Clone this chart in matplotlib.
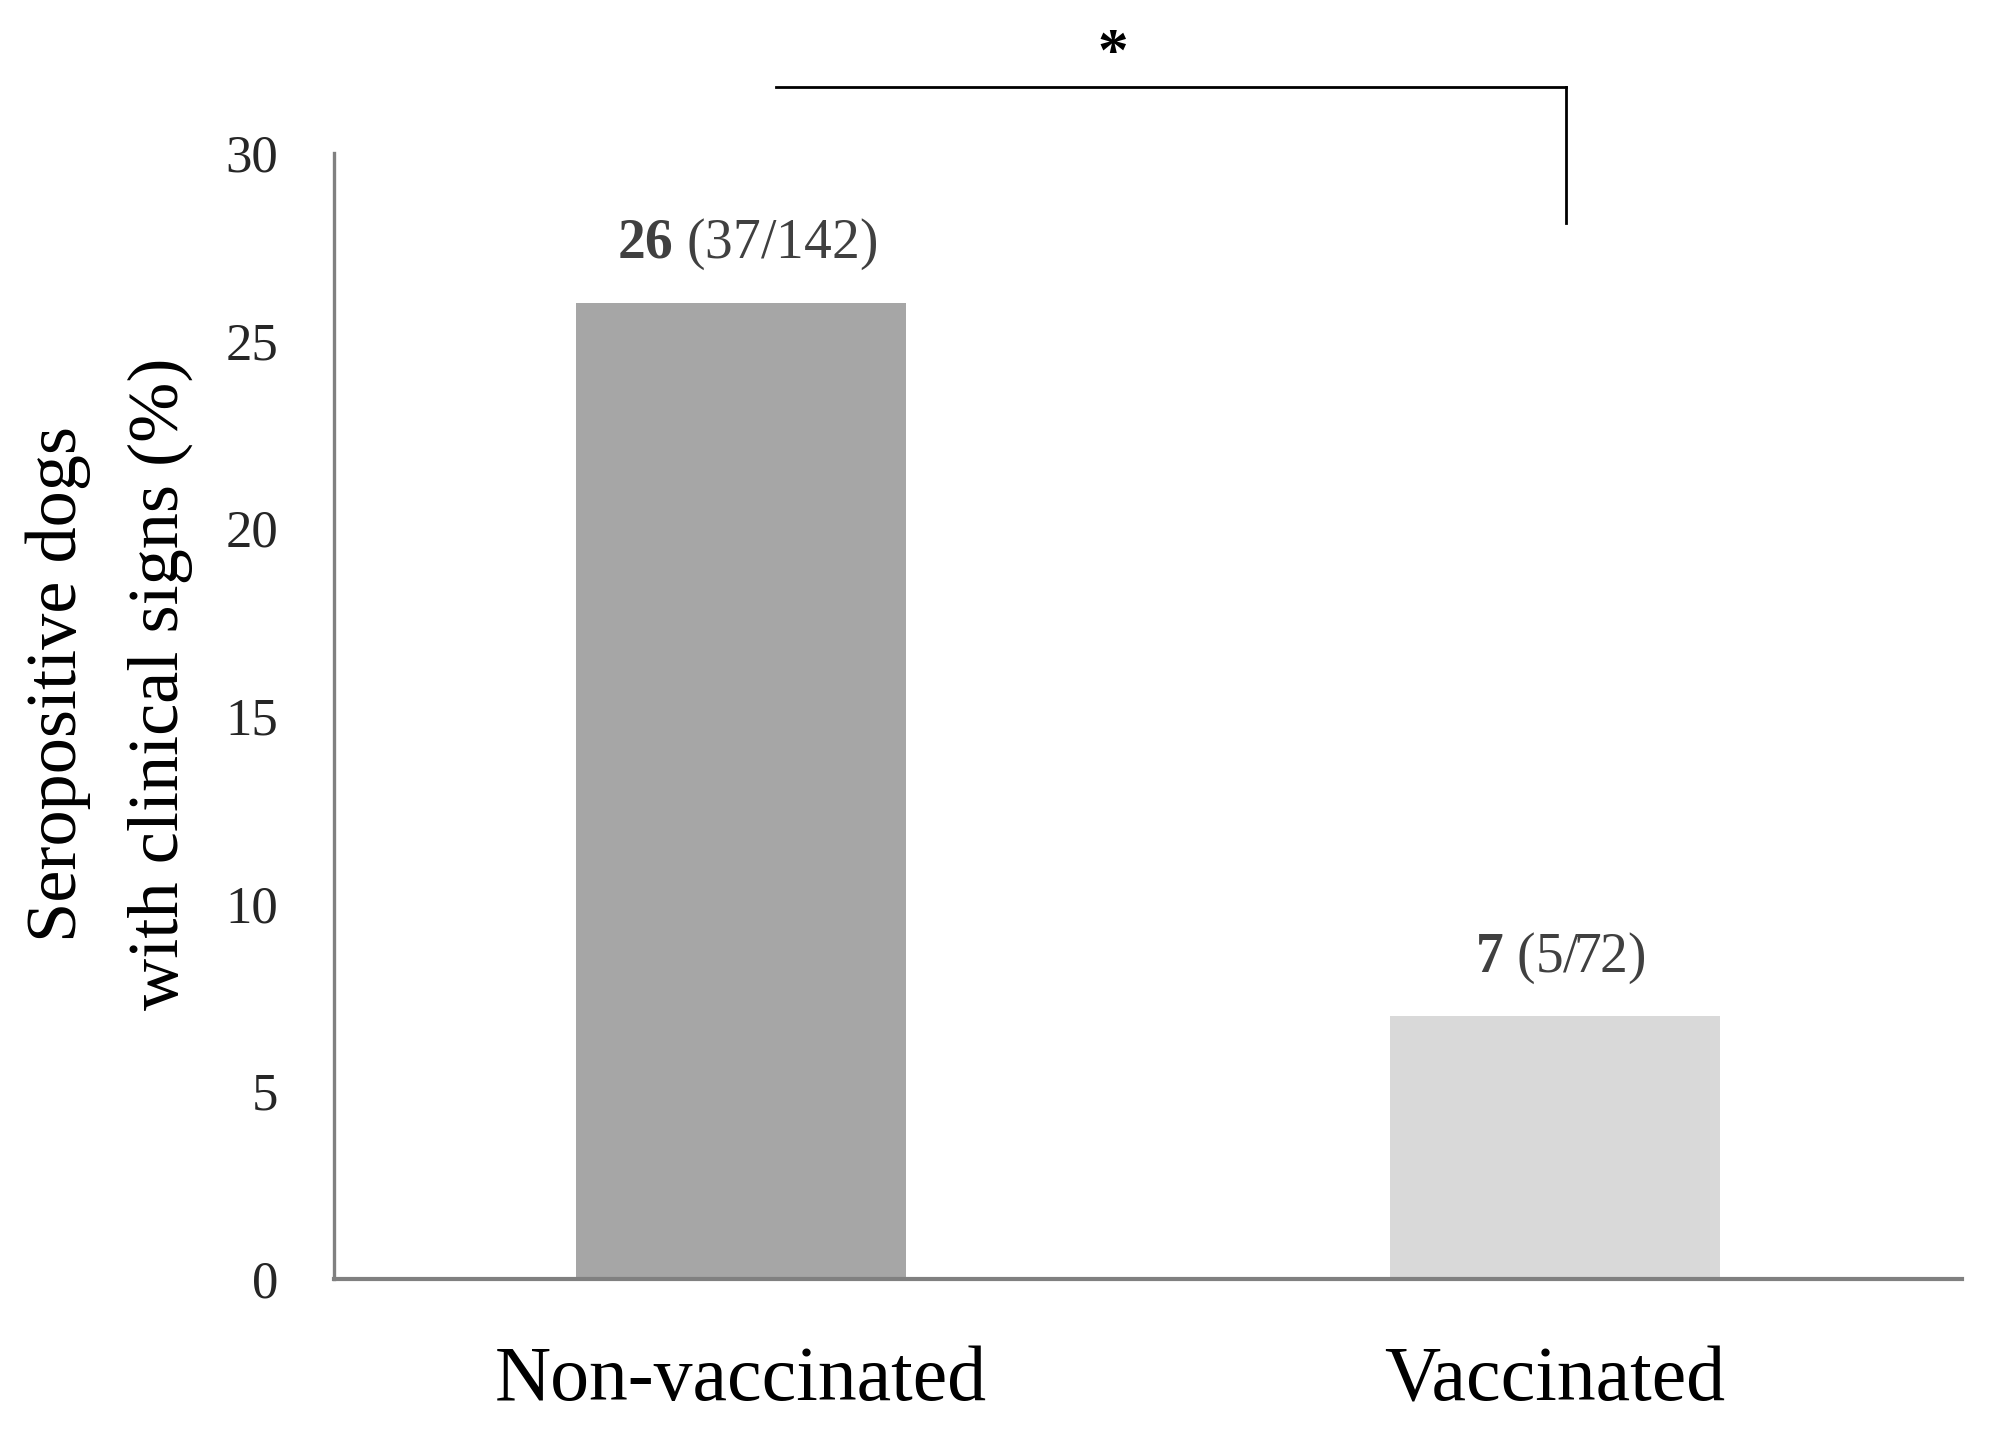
import matplotlib.pyplot as plt

# Data
groups = ["Non-vaccinated", "Vaccinated"]
percent = [26, 7]
counts = ["(37/142)", "(5/72)"]
bar_colors = ["#a6a6a6", "#d9d9d9"]
y_ticks = [0, 5, 10, 15, 20, 25, 30]

plt.rcParams['font.family'] = ['Liberation Serif', 'DejaVu Serif']
plt.rcParams['mathtext.fontset'] = 'custom'
plt.rcParams['mathtext.rm'] = 'Liberation Serif'
plt.rcParams['mathtext.bf'] = 'Liberation Serif:bold'

fig = plt.figure(figsize=(10, 7.155), dpi=200)
ax = fig.add_axes([0.167, 0.1062, 0.814, 0.787])

x = list(range(len(groups)))
ax.bar(x, percent, width=0.405, color=bar_colors, zorder=2)

ax.set_xlim(-0.5, 1.5)
ax.set_ylim(0, 30)
ax.set_yticks(y_ticks)
ax.set_xticks(x)
ax.set_xticklabels(groups, fontsize=28)
ax.tick_params(axis='x', length=0, pad=24)
ax.tick_params(axis='y', length=0, pad=20, labelsize=19, labelcolor='#262626')

for s in ['top', 'right']:
    ax.spines[s].set_visible(False)
ax.spines['bottom'].set_color('#808080')
ax.spines['bottom'].set_linewidth(1.5)
ax.spines['left'].set_color('#808080')
ax.spines['left'].set_linewidth(1.2)

# Value labels: bold percentage + plain counts
for xi, p, c in zip(x, percent, counts):
    ax.annotate(rf"$\mathbf{{{p}}}$ {c}", xy=(xi, p), xytext=(2, 11), textcoords='offset points',
                ha='center', va='bottom', fontsize=20, color='#404040')

# Significance bracket
ax.plot([0.043, 1.013], [31.76, 31.76], color='black', lw=1.0, clip_on=False)
ax.plot([1.013, 1.013], [31.76, 28.14], color='black', lw=1.0, clip_on=False)
ax.text(0.457, 32.6, "*", ha='center', va='center', fontsize=22, fontweight='bold')

fig.text(0.029, 0.522, "Seropositive dogs", rotation=90, ha='center', va='center', fontsize=26)
fig.text(0.08, 0.522, "with clinical signs (%)", rotation=90, ha='center', va='center', fontsize=26)

fig.savefig("out.png", dpi=200)
